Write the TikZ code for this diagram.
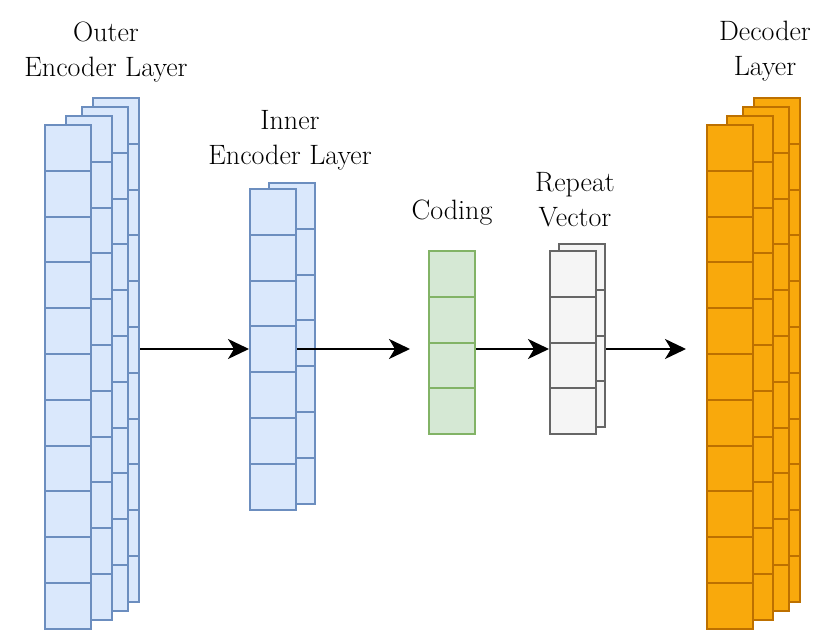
\documentclass[tikz,border=0pt]{standalone}
\usepackage{tikz}
\usetikzlibrary{arrows.meta}

\definecolor{encfill}{HTML}{DAE8FC}
\definecolor{encline}{HTML}{6C8EBF}
\definecolor{codefill}{HTML}{D5E8D4}
\definecolor{codeline}{HTML}{82B366}
\definecolor{repfill}{HTML}{F5F5F5}
\definecolor{repline}{HTML}{666666}
\definecolor{decfill}{HTML}{F9A90C}
\definecolor{decline}{HTML}{BD7000}

% one column of cells: name, x, top y, number of cells, style
\newcommand{\cellcolumn}[5]{%
  \foreach \k in {1,...,#4} {\node[#5] (#1-\k) at (#2,{#3+(\k-1)*45.8}) {};}%
}

\begin{document}
\begin{tikzpicture}[
    x=1pt, y=-1pt,
    cell/.style={rectangle, draw, line width=2pt, minimum width=46pt, minimum height=45.8pt, inner sep=0pt, anchor=north west},
    enccell/.style={cell, fill=encfill, draw=encline},
    codecell/.style={cell, fill=codefill, draw=codeline},
    repcell/.style={cell, fill=repfill, draw=repline},
    deccell/.style={cell, fill=decfill, draw=decline},
    arrow/.style={-{Stealth[length=21pt, width=20pt, inset=6pt]}, line width=2pt, black},
    label/.style={align=center, font=\fontsize{28}{35}\selectfont}
]
\useasboundingbox (0,0) rectangle (831,636);
\coordinate (axis) at (0,349);

% Outer encoder (back to front)
\cellcolumn{outer4}{92}{97}{11}{enccell}
\cellcolumn{outer3}{81}{106}{11}{enccell}
\cellcolumn{outer2}{65}{115}{11}{enccell}
\cellcolumn{outer1}{44}{124}{11}{enccell}

% Inner encoder
\cellcolumn{inner2}{268}{182}{7}{enccell}
\cellcolumn{inner1}{249}{188}{7}{enccell}

% Coding
\cellcolumn{coding}{428}{250}{4}{codecell}

% Repeat vector
\cellcolumn{repeat2}{558}{243}{4}{repcell}
\cellcolumn{repeat1}{549}{250}{4}{repcell}

% Decoder
\cellcolumn{decoder4}{753}{97}{11}{deccell}
\cellcolumn{decoder3}{742}{106}{11}{deccell}
\cellcolumn{decoder2}{726}{115}{11}{deccell}
\cellcolumn{decoder1}{706}{124}{11}{deccell}

% Arrows
\draw[arrow] (outer4-1.east |- axis) -- (inner1-1.west |- axis);
\draw[arrow, shorten >=18pt] (inner1-1.east |- axis) -- (coding-1.west |- axis);
\draw[arrow] (coding-1.east |- axis) -- (repeat1-1.west |- axis);
\draw[arrow, shorten >=20pt] (repeat2-1.east |- axis) -- (decoder1-1.west |- axis);

% Labels
\node[label] (outerlabel) at (106,52) {Outer\\Encoder Layer};
\node[label] (innerlabel) at (290,140) {Inner\\Encoder Layer};
\node[label] (codinglabel) at (452,213) {Coding};
\node[label] (repeatlabel) at (575,200) {Repeat\\Vector};
\node[label] (decoderlabel) at (765,51) {Decoder\\Layer};
\end{tikzpicture}
\end{document}
